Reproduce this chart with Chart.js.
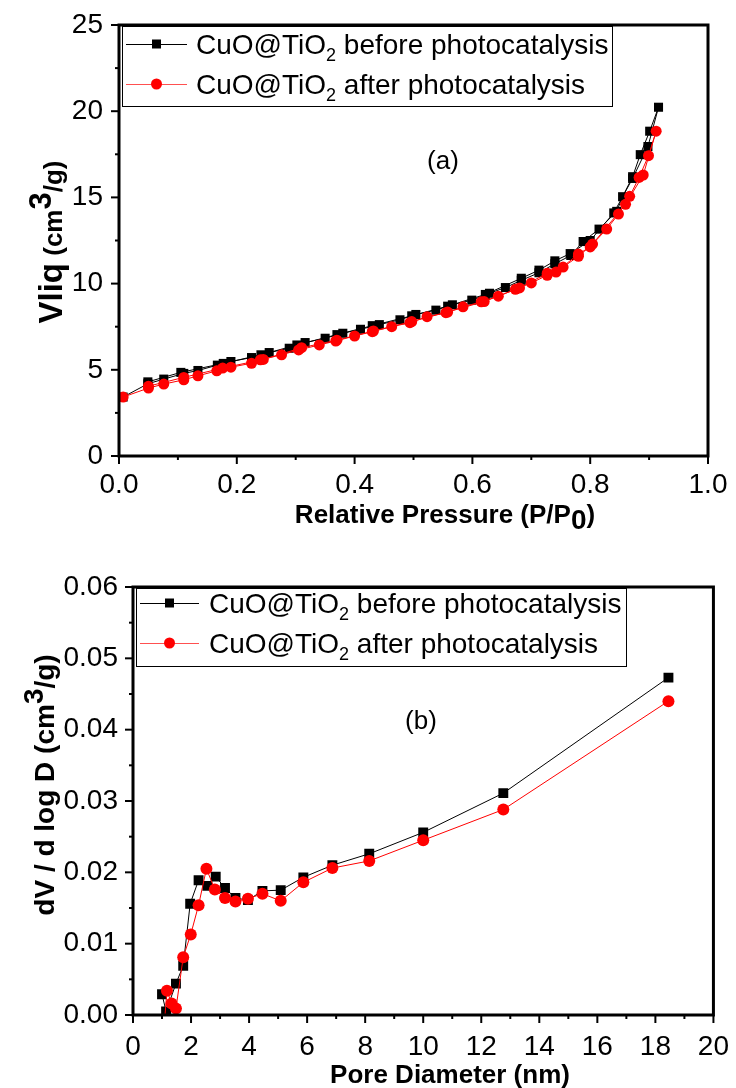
<!DOCTYPE html>
<html>
<head>
<meta charset="utf-8">
<script src="https://cdn.jsdelivr.net/npm/chart.js@4.4.1/dist/chart.umd.min.js"></script>
<style>
html, body { margin: 0; padding: 0; background: #fff; }
#wrapA { position: absolute; left: 0; top: 0; width: 736px; height: 545px; }
#wrapB { position: absolute; left: 0; top: 545px; width: 736px; height: 543px; }
</style>
</head>
<body>
<div id="wrapA"><canvas id="chartA"></canvas></div>
<div id="wrapB"><canvas id="chartB"></canvas></div>
<script>
// (a) N2 isotherms: adsorption branch going up, then desorption branch coming back
var beforeP = [0.007,0.049,0.076,0.11,0.134,0.167,0.19,0.225,0.255,0.289,0.316,0.35,0.38,0.41,0.442,0.477,0.504,0.538,0.566,0.599,0.629,0.656,0.683,0.713,0.74,0.767,0.788,0.815,0.845,0.855,0.872,0.885,0.901,0.916,
               0.898,0.872,0.84,0.80,0.766,0.74,0.713,0.683,0.622,0.558,0.497,0.43,0.37,0.302,0.241,0.177,0.105,0.049];
var beforeV = [3.42,4.19,4.46,4.79,4.96,5.27,5.48,5.71,6.0,6.25,6.58,6.83,7.12,7.35,7.62,7.9,8.21,8.46,8.77,9.04,9.44,9.77,10.19,10.63,11.15,11.63,12.44,13.16,14.19,15.04,16.2,17.48,18.84,20.23,
               17.95,16.1,14.1,12.5,11.74,11.32,10.78,10.31,9.37,8.69,8.13,7.56,7.04,6.44,5.87,5.37,4.85,4.3];
var afterP = [0.007,0.05,0.076,0.11,0.134,0.166,0.19,0.225,0.24,0.276,0.305,0.34,0.368,0.4,0.43,0.463,0.494,0.523,0.555,0.584,0.615,0.644,0.673,0.7,0.727,0.754,0.78,0.804,0.828,0.848,0.867,0.883,0.899,0.912,
              0.89,0.86,0.8,0.78,0.742,0.727,0.68,0.62,0.558,0.497,0.432,0.37,0.31,0.245,0.176,0.11,0.05];
var afterV = [3.42,3.94,4.17,4.42,4.65,4.94,5.15,5.38,5.58,5.87,6.15,6.44,6.67,6.96,7.21,7.5,7.73,8.08,8.31,8.65,8.94,9.27,9.67,10.04,10.48,10.96,11.58,12.29,13.16,14.03,15.06,16.16,17.42,18.84,
              16.3,14.6,12.13,11.71,10.67,10.6,9.75,8.96,8.35,7.8,7.25,6.72,6.28,5.6,5.1,4.56,4.05];

// (b) pore size distribution
var poreBeforeD = [1.0,1.14,1.48,1.73,1.97,2.26,2.56,2.85,3.17,3.53,3.96,4.46,5.09,5.87,6.87,8.14,10.0,12.76,18.45];
var poreBeforeV = [0.0029,0.0005,0.0044,0.0069,0.0156,0.0189,0.0181,0.0194,0.0178,0.0164,0.0161,0.0174,0.0175,0.0193,0.021,0.0226,0.0256,0.0311,0.0473];
var poreAfterD = [1.08,1.17,1.33,1.48,1.73,1.99,2.26,2.53,2.82,3.17,3.53,3.96,4.46,5.09,5.87,6.87,8.14,10.0,12.76,18.45];
var poreAfterV = [-0.0012,0.0034,0.0016,0.0009,0.0081,0.0113,0.0154,0.0205,0.0176,0.0164,0.0159,0.0163,0.017,0.016,0.0186,0.0206,0.0216,0.0245,0.0288,0.044];

var seriesNames = [' before photocatalysis', ' after photocatalysis'];

var FONT = '"Liberation Sans", Arial, sans-serif';

function pts(xs, ys) {
  return xs.map(function (x, i) { return { x: x, y: ys[i] }; });
}

// draw a line of text made of pieces [text, size, bold, dy]
function richText(ctx, parts, x, y, angle) {
  ctx.save();
  ctx.translate(x, y);
  if (angle) ctx.rotate(angle);
  var w = 0;
  parts.forEach(function (p) {
    ctx.font = (p[2] ? 'bold ' : '') + p[1] + 'px ' + FONT;
    w += ctx.measureText(p[0]).width;
  });
  var cx = -w / 2;
  ctx.fillStyle = '#000';
  ctx.textAlign = 'left';
  ctx.textBaseline = 'alphabetic';
  parts.forEach(function (p) {
    ctx.font = (p[2] ? 'bold ' : '') + p[1] + 'px ' + FONT;
    ctx.fillText(p[0], cx, p[3] || 0);
    cx += ctx.measureText(p[0]).width;
  });
  ctx.restore();
}

function drawMarker(ctx, kind, x, y, s) {
  if (kind === 'rect') {
    ctx.fillStyle = '#000';
    ctx.fillRect(x - s / 2, y - s / 2, s, s);
  } else {
    ctx.fillStyle = '#ff0000';
    ctx.beginPath();
    ctx.arc(x, y, s / 2, 0, Math.PI * 2);
    ctx.fill();
  }
}

var framePlugin = {
  id: 'frame',
  afterDatasetsDraw: function (chart, args, o) {
    var ctx = chart.ctx, a = chart.chartArea;
    ctx.save();
    // outward ticks, long on labelled ones
    ctx.strokeStyle = '#000';
    ctx.lineWidth = 2;
    chart.scales.x.ticks.forEach(function (t, i) {
      var p = chart.scales.x.getPixelForValue(t.value);
      var len = i % 2 === 0 ? 8 : 4;
      ctx.beginPath(); ctx.moveTo(p, a.bottom); ctx.lineTo(p, a.bottom + len); ctx.stroke();
    });
    chart.scales.y.ticks.forEach(function (t, i) {
      var p = chart.scales.y.getPixelForValue(t.value);
      var len = i % 2 === 0 ? 8 : 4;
      ctx.beginPath(); ctx.moveTo(a.left, p); ctx.lineTo(a.left - len, p); ctx.stroke();
    });
    ctx.lineWidth = 3;
    ctx.strokeRect(a.left, a.top, a.right - a.left, a.bottom - a.top);

    // legend box
    var L = o.legend;
    ctx.lineWidth = 1;
    ctx.fillStyle = '#fff';
    ctx.fillRect(a.left + 3, a.top + 1, L.w, L.h);
    ctx.strokeStyle = '#000';
    ctx.strokeRect(a.left + 3.5, a.top + 1.5, L.w, L.h);
    var rows = [
      { y: a.top + L.r1, color: '#000', kind: 'rect', size: 9, name: seriesNames[0] },
      { y: a.top + L.r2, color: '#ff5050', kind: 'circle', size: 11, name: seriesNames[1] }
    ];
    rows.forEach(function (r) {
      ctx.strokeStyle = r.color;
      ctx.lineWidth = 1;
      ctx.beginPath();
      ctx.moveTo(a.left + L.x0, r.y + 0.5); ctx.lineTo(a.left + L.x1, r.y + 0.5); ctx.stroke();
      drawMarker(ctx, r.kind, a.left + (L.x0 + L.x1) / 2, r.y, r.size);
      ctx.fillStyle = '#000';
      ctx.textAlign = 'left';
      ctx.textBaseline = 'alphabetic';
      var tx = a.left + L.tx, ty = r.y + 10;
      ctx.font = L.fs + 'px ' + FONT;
      ctx.fillText('CuO@TiO', tx, ty);
      tx += ctx.measureText('CuO@TiO').width;
      ctx.font = Math.round(L.fs * 0.65) + 'px ' + FONT;
      ctx.fillText('2', tx, ty + 7);
      tx += ctx.measureText('2').width;
      ctx.font = L.fs + 'px ' + FONT;
      ctx.fillText(r.name, tx, ty);
    });
    ctx.restore();

    // panel tag and axis titles
    o.texts.forEach(function (t) {
      richText(chart.ctx, t.parts, t.x, t.y, t.angle);
    });
  }
};

function makeOptions(c) {
  return {
    responsive: true,
    maintainAspectRatio: false,
    animation: false,
    layout: { padding: { top: c.top, right: c.right, left: 0, bottom: 0 } },
    plugins: {
      legend: { display: false },
      tooltip: { enabled: false },
      frame: { legend: c.legend, texts: c.texts }
    },
    scales: {
      x: {
        type: 'linear', min: c.xMin, max: c.xMax,
        afterFit: function (s) { s.height = c.xh; },
        grid: { display: false }, border: { display: false },
        ticks: {
          stepSize: c.xStep, autoSkip: false, maxRotation: 0, padding: c.xPad,
          color: '#000', font: { family: FONT, size: 28 },
          callback: function (v) {
            var k = Math.round(v / c.xStep);
            return k % 2 === 0 ? c.xFmt(v) : '';
          }
        }
      },
      y: {
        type: 'linear', min: c.yMin, max: c.yMax,
        afterFit: function (s) { s.width = c.yw; },
        grid: { display: false }, border: { display: false },
        ticks: {
          stepSize: c.yStep, autoSkip: false, padding: c.yPad,
          color: '#000', font: { family: FONT, size: 28 },
          callback: function (v) {
            var k = Math.round(v / c.yStep);
            return k % 2 === 0 ? c.yFmt(v) : '';
          }
        }
      }
    }
  };
}

new Chart(document.getElementById('chartA'), {
  type: 'scatter',
  plugins: [framePlugin],
  data: {
    datasets: [
      { data: pts(afterP, afterV), showLine: true, borderColor: '#ff0000', borderWidth: 1,
        pointStyle: 'circle', pointRadius: 5.5, pointBackgroundColor: '#ff0000', pointBorderWidth: 0 },
      { data: pts(beforeP, beforeV), showLine: true, borderColor: '#000', borderWidth: 1,
        pointStyle: 'rect', pointRadius: 6.4, pointBackgroundColor: '#000', pointBorderWidth: 0 }
    ]
  },
  options: makeOptions({
    top: 25, right: 28, xh: 89, yw: 119,
    xMin: 0, xMax: 1, xStep: 0.1, xPad: 4, xFmt: function (v) { return v.toFixed(1); },
    yMin: 0, yMax: 25, yStep: 2.5, yPad: 8, yFmt: function (v) { return String(Math.round(v)); },
    legend: { w: 490, h: 80, r1: 19, r2: 59, x0: 7, x1: 68, tx: 77, fs: 28 },
    texts: [
      { parts: [['(a)', 26, false, 0]], x: 443, y: 169 },
      { parts: [['Relative Pressure (P/P', 26, true, 0], ['0', 28, true, 6], [')', 26, true, 0]], x: 445, y: 523 },
      { parts: [['Vliq', 33, true, 0], [' (cm', 26, true, 0], ['3', 31, true, -11], ['/g)', 26, true, 0]], x: 62, y: 242, angle: -Math.PI / 2 }
    ]
  })
});

new Chart(document.getElementById('chartB'), {
  type: 'scatter',
  plugins: [framePlugin],
  data: {
    datasets: [
      { data: pts(poreAfterD, poreAfterV), showLine: true, borderColor: '#ff0000', borderWidth: 1,
        pointStyle: 'circle', pointRadius: 6, pointBackgroundColor: '#ff0000', pointBorderWidth: 0 },
      { data: pts(poreBeforeD, poreBeforeV), showLine: true, borderColor: '#000', borderWidth: 1,
        pointStyle: 'rect', pointRadius: 7, pointBackgroundColor: '#000', pointBorderWidth: 0 }
    ]
  },
  options: makeOptions({
    top: 42, right: 18, xh: 73, yw: 133,
    xMin: 0, xMax: 20, xStep: 1, xPad: 7, xFmt: function (v) { return String(Math.round(v)); },
    yMin: 0, yMax: 0.06, yStep: 0.005, yPad: 7, yFmt: function (v) { return v.toFixed(2); },
    legend: { w: 490, h: 78, r1: 16, r2: 56, x0: 7, x1: 66, tx: 76, fs: 28 },
    texts: [
      { parts: [['(b)', 26, false, 0]], x: 421, y: 184 },
      { parts: [['Pore Diameter (nm)', 26, true, 0]], x: 450, y: 538 },
      { parts: [['dV / d log D (cm', 28, true, 0], ['3', 28, true, -11], ['/g)', 28, true, 0]], x: 54, y: 240, angle: -Math.PI / 2 }
    ]
  })
});
</script>
</body>
</html>
